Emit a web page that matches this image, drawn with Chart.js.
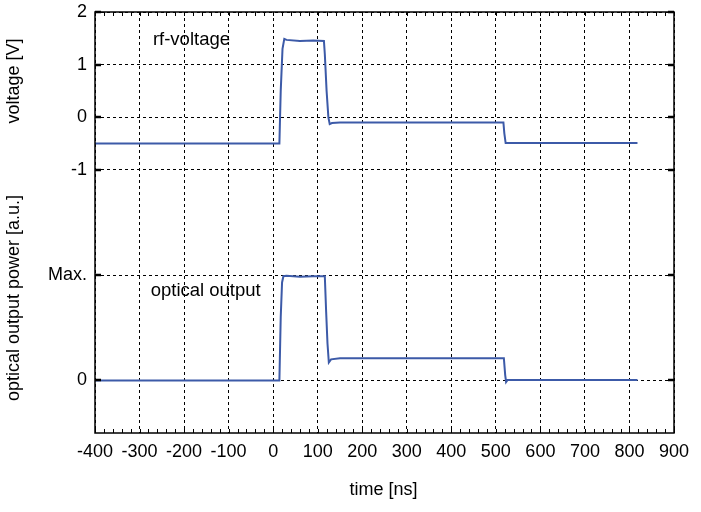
<!DOCTYPE html>
<html>
<head>
<meta charset="utf-8">
<script src="https://cdn.jsdelivr.net/npm/chart.js@4"></script>
<style>
  body { margin: 0; background: #fff; }
  #wrap { width: 701px; height: 512px; }
</style>
</head>
<body>
<div id="wrap"><canvas id="chart" width="701" height="512"></canvas></div>
<script>
// time axis [ns]
let xTicks = [-400, -300, -200, -100, 0, 100, 200, 300, 400, 500, 600, 700, 800, 900];

// rf-voltage trace [V]
let rfTime = [-400, 14, 17, 21, 25, 30, 60, 90, 114, 116, 120, 124, 127, 132, 150, 300, 450, 517, 519, 522, 600, 818];
let rfVolt = [-0.5, -0.5, 0.5, 1.3, 1.49, 1.47, 1.45, 1.46, 1.45, 1.2, 0.5, 0.0, -0.13, -0.11, -0.1, -0.1, -0.1, -0.1, -0.3, -0.49, -0.49, -0.49];

// optical output trace [a.u.]
let optTime = [-400, 14, 17, 20, 23, 30, 60, 90, 116, 119, 122, 125, 130, 150, 300, 450, 518, 521, 523, 526, 600, 818];
let optPower = [0, 0, 0.6, 0.93, 0.99, 0.995, 0.985, 0.99, 0.99, 0.65, 0.35, 0.17, 0.2, 0.21, 0.21, 0.21, 0.21, 0.05, -0.015, 0.003, 0.003, 0.003];

// left axis ticks (voltage units), the lower two belong to the optical trace
let yTickValues = [2, 1, 0, -1, -3, -5];
let yTickLabels = ["2", "1", "0", "-1", "Max.", "0"];

const lineColor = "#3c5aa8";
const fontFamily = "'Liberation Sans', Arial, sans-serif";

function toPoints(xs, ys) {
  return xs.map((x, i) => ({ x: x, y: ys[i] }));
}

// frame, tick marks, axis titles and trace labels
const decorations = {
  id: "decorations",
  afterDraw(chart) {
    const ctx = chart.ctx;
    const a = chart.chartArea;
    const xs = chart.scales.x;
    const ys = chart.scales.y;
    ctx.save();

    // minor ticks on the time axis, every 20 ns, top and bottom
    ctx.strokeStyle = "#000";
    ctx.lineWidth = 1;
    for (let t = -400; t <= 900; t += 20) {
      const px = Math.round(xs.getPixelForValue(t)) + 0.5;
      ctx.beginPath();
      ctx.moveTo(px, a.top);
      ctx.lineTo(px, a.top + 4);
      ctx.moveTo(px, a.bottom);
      ctx.lineTo(px, a.bottom - 4);
      ctx.stroke();
    }

    // major ticks on left and right
    ctx.lineWidth = 2.5;
    yTickValues.forEach((v) => {
      const py = Math.round(ys.getPixelForValue(v));
      ctx.beginPath();
      ctx.moveTo(a.left, py);
      ctx.lineTo(a.left + 6, py);
      ctx.moveTo(a.right, py);
      ctx.lineTo(a.right - 6, py);
      ctx.stroke();
    });

    // frame
    ctx.lineWidth = 1.5;
    ctx.strokeRect(a.left, a.top, a.right - a.left, a.bottom - a.top);

    // titles
    ctx.fillStyle = "#000";
    ctx.font = "18px " + fontFamily;
    ctx.textAlign = "center";
    ctx.textBaseline = "middle";
    ctx.fillText("time [ns]", (a.left + a.right) / 2 - 1, 490);

    ctx.save();
    ctx.translate(14, 81);
    ctx.rotate(-Math.PI / 2);
    ctx.fillText("voltage [V]", 0, 0);
    ctx.restore();

    ctx.save();
    ctx.translate(14, 298);
    ctx.rotate(-Math.PI / 2);
    ctx.fillText("optical output power [a.u.]", 0, 0);
    ctx.restore();

    // trace labels
    ctx.textAlign = "left";
    ctx.font = "18.5px " + fontFamily;
    ctx.fillText("rf-voltage", xs.getPixelForValue(-270), 40);
    ctx.fillText("optical output", xs.getPixelForValue(-275), 291);

    ctx.restore();
  }
};

new Chart(document.getElementById("chart"), {
  type: "line",
  data: {
    datasets: [
      {
        label: "rf-voltage",
        data: toPoints(rfTime, rfVolt),
        yAxisID: "y",
        borderColor: lineColor,
        borderWidth: 2,
        pointRadius: 0,
        tension: 0,
        fill: false,
      },
      {
        label: "optical output",
        data: toPoints(optTime, optPower),
        yAxisID: "y2",
        borderColor: lineColor,
        borderWidth: 2,
        pointRadius: 0,
        tension: 0,
        fill: false,
      },
    ],
  },
  options: {
    responsive: false,
    animation: false,
    layout: { padding: { top: 0, right: 27, left: 0, bottom: 0 } },
    plugins: {
      legend: { display: false },
      tooltip: { enabled: false },
    },
    scales: {
      x: {
        type: "linear",
        min: -400,
        max: 900,
        afterBuildTicks: (scale) => {
          scale.ticks = xTicks.map((v) => ({ value: v }));
        },
        afterFit: (scale) => {
          scale.height = 79;
        },
        ticks: {
          color: "#000",
          padding: 8,
          maxRotation: 0,
          font: { family: fontFamily, size: 18 },
        },
        grid: { color: "#000", lineWidth: 1, drawTicks: false },
        border: { display: false, dash: [3, 3] },
      },
      y: {
        type: "linear",
        min: -6,
        max: 2,
        afterBuildTicks: (scale) => {
          scale.ticks = yTickValues.map((v) => ({ value: v }));
        },
        afterFit: (scale) => {
          scale.width = 95;
          scale.paddingTop = 12;
        },
        ticks: {
          color: "#000",
          padding: 8,
          font: { family: fontFamily, size: 18 },
          callback: (value) => {
            const i = yTickValues.indexOf(value);
            return i >= 0 ? yTickLabels[i] : "";
          },
        },
        grid: { color: "#000", lineWidth: 1, drawTicks: false },
        border: { display: false, dash: [3, 3] },
      },
      y2: {
        type: "linear",
        display: false,
        min: -0.5,
        max: 3.5,
      },
    },
  },
  plugins: [decorations],
});
</script>
</body>
</html>
